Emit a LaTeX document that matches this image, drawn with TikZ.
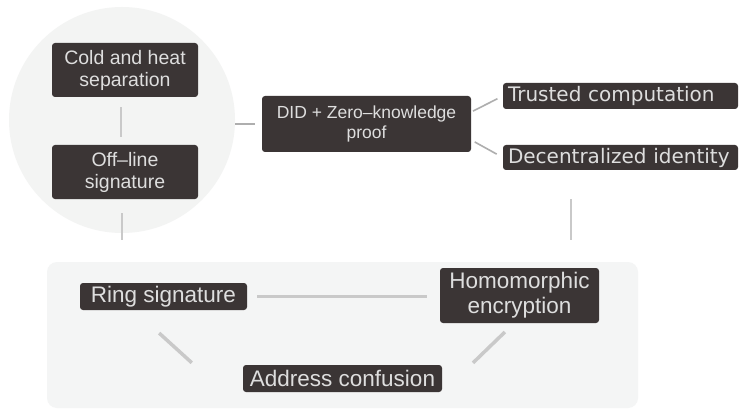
\documentclass[tikz,border=0pt]{standalone}
\usepackage{fontspec}
\setmainfont{Liberation Sans}
\newfontfamily\dejavu{DejaVu Sans}
\definecolor{boxfill}{HTML}{3B3535}
\definecolor{boxtext}{HTML}{DEDEDE}
\definecolor{circfill}{HTML}{F3F4F3}
\definecolor{panelfill}{HTML}{F4F5F5}
\definecolor{linegray}{HTML}{C9C9C9}
\definecolor{linedark}{HTML}{AEAEAE}
\tikzset{
  box/.style={fill=boxfill, text=boxtext, rounded corners=3pt, inner sep=0pt, align=center},
  thickline/.style={draw=linegray, line width=3.5pt},
  midline/.style={draw=linegray, line width=2.6pt},
  thinline/.style={draw=linedark, line width=1.6pt}
}
\begin{document}
\begin{tikzpicture}[x=1pt,y=-1pt]
\useasboundingbox (0,0) rectangle (739,409);
\fill[white] (0,0) rectangle (739,409);
% backgrounds
\node[circle, fill=circfill, minimum size=226pt, inner sep=0pt] (circ) at (122,120) {};
\node[fill=panelfill, rounded corners=10pt, minimum width=591pt, minimum height=146pt, inner sep=0pt] (panel) at (342.5,335) {};
% nodes
\node[box, minimum width=146pt, minimum height=54pt, font=\fontsize{19.5}{22}\selectfont] (cold) at (125,70) {Cold and heat\\separation};
\node[box, minimum width=146pt, minimum height=54pt, font=\fontsize{19.5}{22}\selectfont] (off) at (125,172) {Off–line\\signature};
\node[box, minimum width=209pt, minimum height=56pt, font=\fontsize{17.5}{20}\selectfont] (did) at (366.5,124) {DID + Zero–knowledge\\proof};
\node[box, minimum width=235pt, minimum height=26pt, text width=225pt, align=left, font=\dejavu\fontsize{20}{22}\selectfont] (trust) at (620.5,96) {Trusted computation};
\node[box, minimum width=235pt, minimum height=25pt, text width=225pt, align=left, font=\dejavu\fontsize{20}{22}\selectfont] (dec) at (620.5,157.5) {Decentralized identity};
\node[box, minimum width=167pt, minimum height=27pt, font=\fontsize{22.5}{25}\selectfont] (ring) at (163.5,296.5) {Ring signature};
\node[box, minimum width=159pt, minimum height=55pt, font=\fontsize{22.5}{25}\selectfont] (homo) at (519.5,295.5) {Homomorphic\\encryption};
\node[box, minimum width=199pt, minimum height=27pt, font=\fontsize{22.5}{25}\selectfont] (addr) at (342.5,378.5) {Address confusion};
% connectors
\draw[midline, shorten <=10pt, shorten >=8pt] ([xshift=-4pt]cold.south) -- ([xshift=-4pt]off.north);
\draw[midline, shorten <=14pt, shorten >=22pt] ([xshift=-3pt]off.south) -- ([xshift=-3pt]off.south |- panel.north);
\draw[thinline, shorten >=7pt] (did.west -| circ.east) -- (did.west);
\draw[thinline, shorten <=2pt, shorten >=6pt] ([yshift=12pt]did.east) -- (trust.west);
\draw[thinline, shorten <=4pt, shorten >=7pt] ([yshift=-16pt]did.east) -- (dec.west);
\draw[midline, shorten <=29pt, shorten >=22pt] ([xshift=-49.5pt]dec.south) -- ([xshift=-49.5pt]dec.south |- panel.north);
\draw[thickline, shorten <=10pt, shorten >=13pt] (ring.east) -- (ring.east -| homo.west);
\draw[thickline, shorten <=34pt, shorten >=3pt] ([xshift=-29.5pt]ring.south) -- ([xshift=-148.5pt]addr.north);
\draw[thickline, shorten <=12.7pt, shorten >=2.8pt] ([xshift=-5.5pt]homo.south) -- ([xshift=128.5pt]addr.north);
\end{tikzpicture}
\end{document}
